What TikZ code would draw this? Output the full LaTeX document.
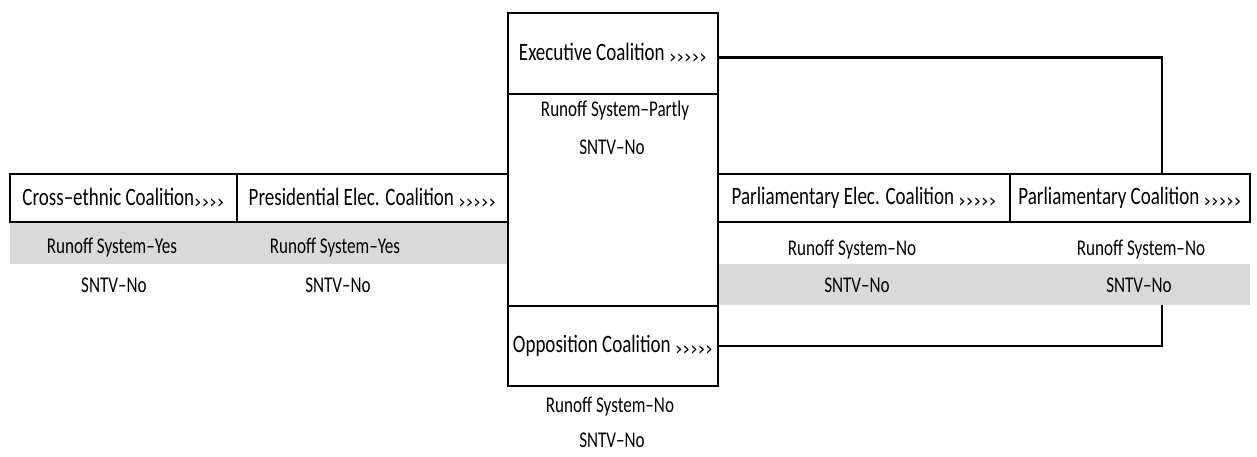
\documentclass[tikz,border=0pt]{standalone}
\usepackage{fontspec}
\setmainfont[FakeStretch=0.76]{Carlito}
\newfontfamily\chevfont{DejaVu Sans}
\tikzset{
  hdr/.style={draw, line width=2.5pt, inner sep=0pt, font=\fontsize{25}{28}\selectfont},
  band/.style={fill=black!15, inner sep=0pt},
  lbl/.style={inner sep=0pt, font=\fontsize{22.5}{25}\selectfont},
  link/.style={line width=2.5pt}
}
\newcommand{\chevs}[1]{\raisebox{-3pt}{\chevfont\fontsize{19}{19}\selectfont #1}}

\begin{document}
\begin{tikzpicture}[x=1pt, y=-1pt]
      \useasboundingbox (0,0) rectangle (1257,456);
      % \draw[help lines, gray!50, very thin] (0,0) grid[step=50] (1257,456);

      \node[band, minimum width=498, minimum height=42] (lband) at (259,243) {};
      \node[band, minimum width=532, minimum height=41] (rband) at (984,284.5) {};

      \node[hdr, minimum width=227, minimum height=48] (cross) at (123.5,198) {Cross–ethnic Coalition\chevs{››››}};
      \node[lbl] (crossrun) at (112,248) {Runoff System–Yes};
      \node[lbl] (crosssntv) at (114,285) {SNTV–No};

      \node[hdr, minimum width=271, minimum height=48] (pres) at (372.5,198) {Presidential Elec. Coalition \chevs{›››››}};
      \node[lbl] (presrun) at (335,248) {Runoff System–Yes};
      \node[lbl] (pressntv) at (338,285) {SNTV–No};

      \node[hdr, minimum width=210, minimum height=81] (exec) at (613,53.5) {Executive Coalition \chevs{›››››}};
      \node[hdr, minimum width=210, minimum height=212] (mid) at (613,200) {};
      \node[lbl] (execrun) at (615,110) {Runoff System–Partly};
      \node[lbl] (execsntv) at (612,147) {SNTV–No};

      \node[hdr, minimum width=210, minimum height=80] (opp) at (613,346) {Opposition Coalition \chevs{›››››}};
      \node[lbl] (opprun) at (610,407) {Runoff System–No};
      \node[lbl] (oppsntv) at (612,440) {SNTV–No};

      \node[hdr, minimum width=292, minimum height=48] (parlelec) at (864,198) {Parliamentary Elec. Coalition \chevs{›››››}};
      \node[lbl] (parlelecrun) at (852,250) {Runoff System–No};
      \node[lbl] (parlelecsntv) at (857,285) {SNTV–No};

      \node[hdr, minimum width=240, minimum height=48] (parl) at (1130,198) {Parliamentary Coalition \chevs{›››››}};
      \node[lbl] (parlrun) at (1141,250) {Runoff System–No};
      \node[lbl] (parlsntv) at (1139,285) {SNTV–No};

      \coordinate (tap) at (1162,0);
      \draw[link] ([yshift=-4pt]exec.east) -| (tap |- parl.north);
      \draw[link] (opp.east) -| (tap |- rband.south);
    \end{tikzpicture}
\end{document}
